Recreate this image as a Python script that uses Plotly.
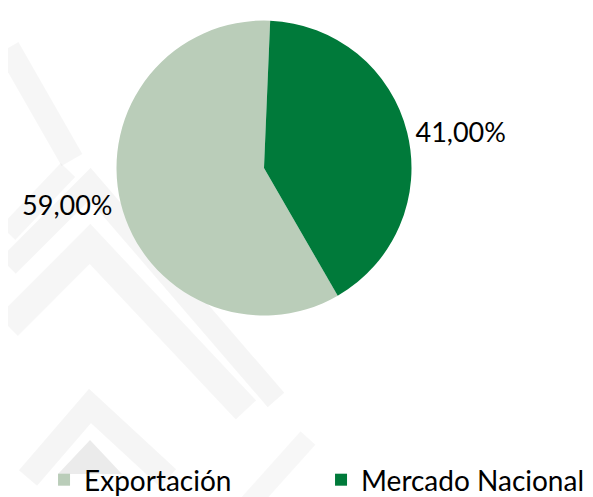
import plotly.graph_objects as go

# datos del gráfico
categorias = ["Exportación", "Mercado Nacional"]
porcentajes = [59.0, 41.0]
colores = ["#BACDB9", "#007A3A"]

W, H = 593, 497


def px(x, y):
    """pixel -> paper coords"""
    return x / W, 1 - y / H


def path(points):
    pts = [px(x, y) for x, y in points]
    return "M " + " L ".join(f"{a:.4f},{b:.4f}" for a, b in pts)


fig = go.Figure(go.Pie(
    labels=categorias,
    values=porcentajes,
    marker=dict(colors=colores, line=dict(width=0)),
    sort=False,
    direction="clockwise",
    rotation=150,
    texttemplate="%{percent:.2%}",
    textposition="outside",
    textfont=dict(size=27, color="#000000", family="Lato"),
    hole=0,
    domain=dict(x=[108.5 / W, 403.5 / W], y=[1 - 307.5 / H, 1 - 12.5 / H]),
))

# marca de agua gris del fondo (chevrones difuminados)
marca = [
    ([(0, 40), (64, 152)], 24, 0.035),
    ([(0, 225), (60, 162)], 20, 0.035),
    ([(0, 258), (82, 176), (268, 392)], 22, 0.04),
    ([(0, 318), (82, 236), (238, 402)], 28, 0.035),
    ([(20, 470), (82, 398), (160, 470)], 24, 0.04),
    ([(240, 497), (300, 430)], 20, 0.03),
]
shapes = []
for pts, ancho, alfa in marca:
    shapes.append(dict(
        type="path", path=path(pts), xref="paper", yref="paper",
        line=dict(color=f"rgba(0,0,0,{alfa})", width=ancho), layer="below",
    ))
shapes.append(dict(
    type="path", path=path([(50, 466), (82, 432), (114, 466)]) + " Z",
    xref="paper", yref="paper", fillcolor="rgba(0,0,0,0.08)",
    line=dict(width=0), layer="below",
))

fig.update_layout(
    width=W,
    height=H,
    margin=dict(l=0, r=0, t=0, b=0),
    paper_bgcolor="white",
    plot_bgcolor="white",
    separators=",.",
    shapes=shapes,
    font=dict(family="Lato", color="#000000"),
    showlegend=True,
    legend=dict(
        orientation="h",
        x=0.995,
        xanchor="right",
        y=0,
        yanchor="bottom",
        entrywidth=232,
        entrywidthmode="pixels",
        font=dict(size=28, family="Lato", color="#000000"),
        bgcolor="rgba(0,0,0,0)",
        itemclick=False,
    ),
)

fig.write_html("out.html")
